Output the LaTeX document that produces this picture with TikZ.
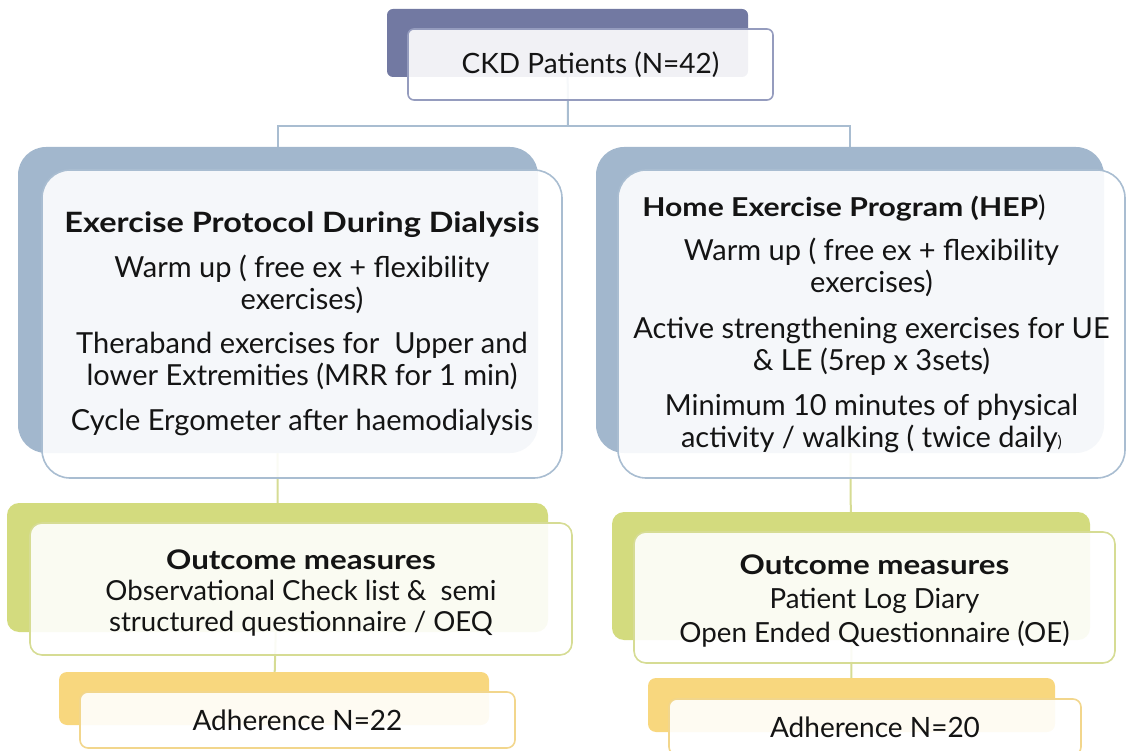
\documentclass[tikz,border=0pt]{standalone}
\usepackage{fontspec}
\setmainfont{Lato}
\newfontfamily\headfont{Lato}[FakeStretch=1.16]
\usetikzlibrary{backgrounds}
\definecolor{slate}{HTML}{7279A2}
\definecolor{slateline}{HTML}{959CBE}
\definecolor{steel}{HTML}{A2B7CD}
\definecolor{steelline}{HTML}{A9BDD1}
\definecolor{lime}{HTML}{D3DB7E}
\definecolor{limeline}{HTML}{D6DC94}
\definecolor{sand}{HTML}{F8D77E}
\definecolor{sandline}{HTML}{F2D68C}
\definecolor{ink}{HTML}{141414}
\newcommand{\headline}[2]{{\headfont\bfseries\fontsize{#1}{#1}\selectfont #2}}
\tikzset{
  backing/.style={rectangle, inner sep=0pt, outer sep=0pt, draw=none},
  card/.style={rectangle, inner sep=0pt, outer sep=0pt, fill=white,
    fill opacity=0.9, text opacity=1, line width=1.6pt, align=center,
    text=ink},
  body/.style={font=\fontsize{29}{32}\selectfont},
  link/.style={line width=2pt},
}
\begin{document}
\begin{tikzpicture}[x=1pt,y=-1pt]
\useasboundingbox (0,0) rectangle (1128,751);

% top box
\node[backing, fill=slate, rounded corners=6pt, minimum width=361pt, minimum height=68pt] (ckdback) at (567.5,43) {};
\node[card, draw=slateline, rounded corners=6pt, minimum width=365pt, minimum height=71pt,
      font=\fontsize{28}{34}\selectfont] (ckd) at (590.5,64.5) {CKD Patients (N=42)};

% exercise protocol during dialysis
\node[backing, fill=steel, rounded corners=28pt, minimum width=520pt, minimum height=306pt] (dialback) at (278,300) {};
\node[card, body, draw=steelline, rounded corners=28pt, minimum width=520pt, minimum height=308pt] (dial) at (302,324)
  {\headline{28}{Exercise Protocol During Dialysis}\\[13pt]
   Warm up ( free ex + flexibility\\ exercises)\\[12pt]
   Theraband exercises for\ \ Upper and\\ lower Extremities (MRR for 1 min)\\[13pt]
   Cycle Ergometer after haemodialysis};

% home exercise program
\node[backing, fill=steel, rounded corners=28pt, minimum width=508pt, minimum height=306pt] (hepback) at (850,300) {};
\node[card, body, draw=steelline, rounded corners=28pt, minimum width=507pt, minimum height=308pt] (hep) at (871.5,324)
  {\headline{26}{Home Exercise Program (HEP}{\fontsize{28}{28}\selectfont )}\hspace*{55pt}\\[12pt]
   Warm up ( free ex + flexibility\\ exercises)\\[14pt]
   Active strengthening exercises for UE\\ \& LE (5rep x 3sets)\\[13pt]
   Minimum 10 minutes of physical\\ activity / walking ( twice daily{\fontsize{16}{16}\selectfont )}};

% outcome measures, left
\node[backing, fill=lime, rounded corners=12pt, minimum width=541pt, minimum height=129pt] (outLback) at (277.5,567.5) {};
\node[card, draw=limeline, rounded corners=12pt, minimum width=542pt, minimum height=132pt,
      font=\fontsize{27.6}{31}\selectfont] (outL) at (301,589)
  {\headline{27}{Outcome measures}\rule{0pt}{27pt}\\
   Observational Check list \&\ \ semi\\
   structured questionnaire / OEQ};

% outcome measures, right
\node[backing, fill=lime, rounded corners=12pt, minimum width=478pt, minimum height=128pt] (outRback) at (851,576) {};
\node[card, draw=limeline, rounded corners=12pt, minimum width=481pt, minimum height=131pt,
      font=\fontsize{27.7}{34}\selectfont] (outR) at (874.5,597.5)
  {\headline{27}{Outcome measures}\rule{0pt}{27pt}\\
   Patient Log Diary\\
   Open Ended Questionnaire (OE)};

% adherence, left
\node[backing, fill=sand, rounded corners=8pt, minimum width=430pt, minimum height=53pt] (adhLback) at (274,698.5) {};
\node[card, draw=sandline, rounded corners=8pt, minimum width=435pt, minimum height=56pt,
      font=\fontsize{28}{32}\selectfont] (adhL) at (297.5,720)
  {Adherence N=22};

% adherence, right
\node[backing, fill=sand, rounded corners=8pt, minimum width=407pt, minimum height=54pt] (adhRback) at (851.5,705) {};
\node[card, draw=sandline, rounded corners=8pt, minimum width=412pt, minimum height=56pt,
      font=\fontsize{28}{32}\selectfont] (adhR) at (875,727)
  {Adherence N=20};

% connectors, kept behind the boxes
\coordinate (hub) at (568,126);
\begin{scope}[on background layer]
  \draw[link, steelline] (ckdback) -- (hub);
  \draw[link, steelline] (hub) -| (dialback);
  \draw[link, steelline] (hub) -| (hepback);
  \draw[link, limeline] (dialback) -- (outLback);
  \draw[link, limeline] (outLback) -- (adhLback);
  \draw[link, limeline] (hepback) -- (outRback);
  \draw[link, limeline] (outRback) -- (adhRback);
\end{scope}
\end{tikzpicture}
\end{document}
